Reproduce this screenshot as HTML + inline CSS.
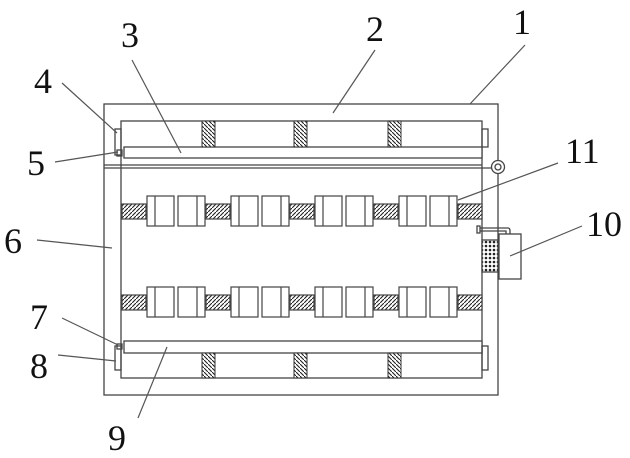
<!DOCTYPE html>
<html><head><style>
html,body{margin:0;padding:0;background:#fff;}
svg{display:block;}
text{font-family:"Liberation Serif",serif;font-size:36px;fill:#111;}
</style></head><body>
<svg width="630" height="458" viewBox="0 0 630 458" xmlns="http://www.w3.org/2000/svg">
<defs>
<pattern id="hs" width="4" height="4" patternUnits="userSpaceOnUse">
<rect width="4" height="4" fill="#fff"/><path d="M-1,5 L5,-1" stroke="#222" stroke-width="1.1"/></pattern>
<pattern id="vs" width="4" height="4" patternUnits="userSpaceOnUse">
<rect width="4" height="4" fill="#fff"/><path d="M-1,-1 L5,5" stroke="#222" stroke-width="1.1"/></pattern>
<pattern id="mesh" width="4" height="4" patternUnits="userSpaceOnUse">
<rect width="4" height="4" fill="#fff"/><circle cx="2" cy="2" r="1.3" fill="#222"/></pattern>
</defs>
<g fill="none" stroke="#444" stroke-width="1.3">
<rect x="104" y="104" width="394" height="291"/>
<rect x="121" y="121" width="361" height="257"/>
<line x1="104" y1="168" x2="492" y2="168"/>
<line x1="104" y1="165" x2="482" y2="165"/>
<rect x="124" y="147" width="358" height="11" fill="#fff"/>
<rect x="124" y="341" width="358" height="12" fill="#fff"/>
<rect x="115" y="129" width="6" height="26"/>
<rect x="117" y="150" width="5" height="6"/>
<rect x="482" y="129" width="6" height="18"/>
<rect x="115" y="346" width="6" height="24"/>
<rect x="117" y="344" width="5" height="5"/>
<rect x="482" y="346" width="6" height="24"/>
<circle cx="498" cy="167" r="6.5" fill="#fff"/>
<circle cx="498" cy="167" r="3"/>
</g>
<g stroke="#333" stroke-width="1">
<rect x="202" y="121" width="13" height="26" fill="url(#vs)"/>
<rect x="294" y="121" width="13" height="26" fill="url(#vs)"/>
<rect x="388" y="121" width="13" height="26" fill="url(#vs)"/>
<rect x="202" y="353" width="13" height="25" fill="url(#vs)"/>
<rect x="294" y="353" width="13" height="25" fill="url(#vs)"/>
<rect x="388" y="353" width="13" height="25" fill="url(#vs)"/>
</g>
<g id="row" stroke="#444" stroke-width="1.2">
<rect x="122" y="204" width="24" height="15" fill="url(#hs)"/>
<rect x="206" y="204" width="24" height="15" fill="url(#hs)"/>
<rect x="290" y="204" width="24" height="15" fill="url(#hs)"/>
<rect x="374" y="204" width="24" height="15" fill="url(#hs)"/>
<rect x="458" y="204" width="24" height="15" fill="url(#hs)"/>
<g fill="#fff">
<rect x="147" y="196" width="27" height="30"/><line x1="155" y1="196" x2="155" y2="226"/>
<rect x="178" y="196" width="27" height="30"/><line x1="197" y1="196" x2="197" y2="226"/>
<rect x="231" y="196" width="27" height="30"/><line x1="239" y1="196" x2="239" y2="226"/>
<rect x="262" y="196" width="27" height="30"/><line x1="281" y1="196" x2="281" y2="226"/>
<rect x="315" y="196" width="27" height="30"/><line x1="323" y1="196" x2="323" y2="226"/>
<rect x="346" y="196" width="27" height="30"/><line x1="365" y1="196" x2="365" y2="226"/>
<rect x="399" y="196" width="27" height="30"/><line x1="407" y1="196" x2="407" y2="226"/>
<rect x="430" y="196" width="27" height="30"/><line x1="449" y1="196" x2="449" y2="226"/>
</g>
</g>
<use href="#row" transform="translate(0,91)"/>
<g stroke="#444" stroke-width="1.3" fill="none">
<rect x="482" y="240" width="16" height="32" fill="url(#mesh)"/>
<rect x="499" y="234" width="22" height="45" fill="#fff"/>
<path d="M479,228 H508 Q510,228 510,231 V234"/>
<path d="M479,231 H506 V234"/>
<rect x="477" y="226" width="3" height="7" fill="#fff"/>
</g>
<g stroke="#555" stroke-width="1.2">
<line x1="525" y1="45" x2="470" y2="104"/>
<line x1="375" y1="50" x2="333" y2="113"/>
<line x1="132" y1="60" x2="181" y2="153"/>
<line x1="62" y1="83" x2="117" y2="133"/>
<line x1="55" y1="162" x2="118" y2="152"/>
<line x1="37" y1="240" x2="112" y2="248"/>
<line x1="62" y1="318" x2="118" y2="345"/>
<line x1="58" y1="355" x2="116" y2="361"/>
<line x1="138" y1="418" x2="167" y2="347"/>
<line x1="582" y1="226" x2="510" y2="256"/>
<line x1="558" y1="163" x2="458" y2="200"/>
</g>
<text x="513" y="34">1</text>
<text x="366" y="41">2</text>
<text x="121" y="47">3</text>
<text x="34" y="93">4</text>
<text x="27" y="175">5</text>
<text x="4" y="253">6</text>
<text x="30" y="329">7</text>
<text x="30" y="378">8</text>
<text x="108" y="450">9</text>
<text x="586" y="236">10</text>
<text x="565" y="163">11</text>
</svg>
</body></html>
